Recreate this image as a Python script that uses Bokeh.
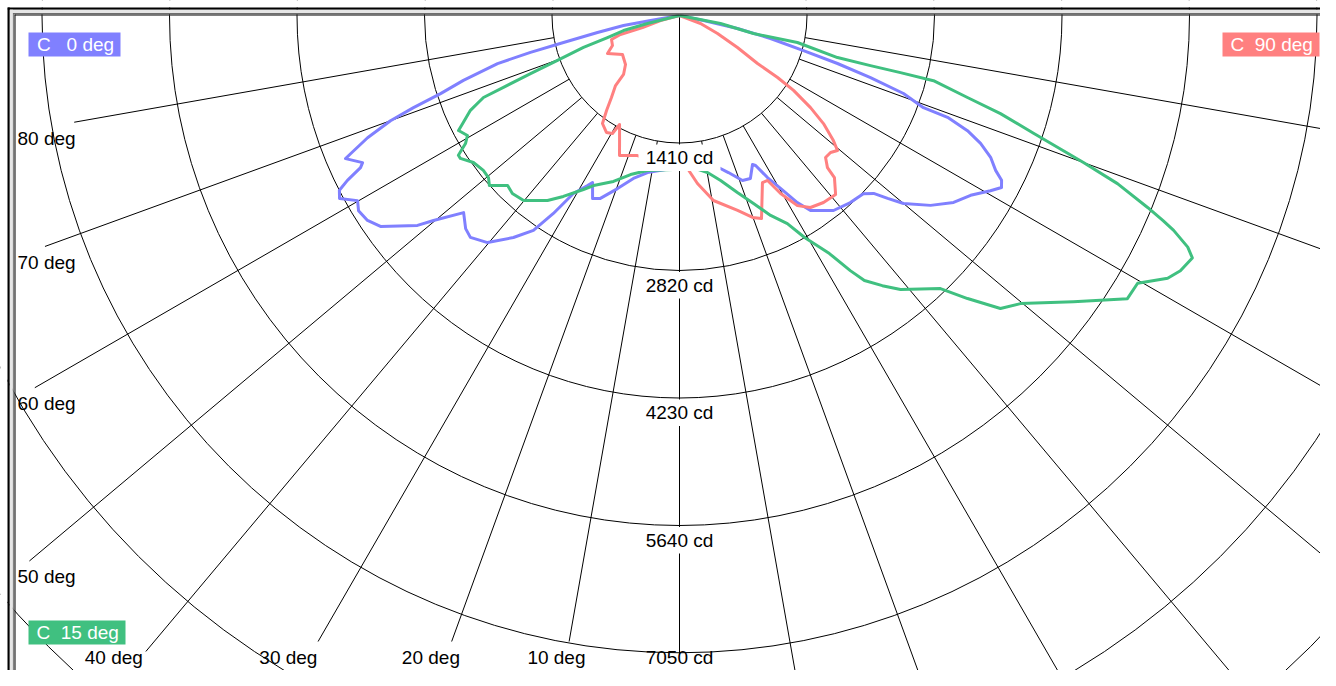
import math
from bokeh.plotting import figure
from bokeh.models import Range1d
from bokeh.embed import file_html
from bokeh.resources import INLINE
from bokeh.core.properties import value

# ---------------- data ----------------
# gamma angle (deg, negative = left half) and luminous intensity (cd)
c0_gamma = [-90, -80.2, -79.9, -78.3, -76.9, -76.1, -75.2, -73.3, -71.9, -70.9,
            -70.0, -68.6, -67.2, -66.8, -65.1, -64.5, -63.6, -62.8, -61.7, -60.1,
            -58.7, -56.7, -54.8, -51.3, -50.2, -47.6, -45.1, -43.3, -40.2, -36.8,
            -34.2, -32.5, -30.8, -28.4, -27.5, -25.4, -23.4, -19.7, -15.8, -11.5,
            -5.2, 0,
            14.4, 17.3, 20.9, 23.5, 26.1, 26.9, 28.5, 30.3, 32.2, 33.9,
            38.3, 42.4, 45.9, 47.5, 48.7, 50.0, 52.9, 55.7, 58.3, 60.6,
            61.9, 62.9, 63.9, 65.5, 67.0, 68.2, 69.2, 69.3, 70.8, 72.0,
            73.1, 74.2, 75.8, 77.4, 78.2, 90]
c0_cd = [0, 325, 629, 926, 1317, 1698, 2081, 2495, 2780, 3113,
         3401, 3705, 3946, 4018, 3864, 3908, 4100, 4229, 4270, 4107,
         4154, 4128, 4047, 3713, 3541, 3233, 3339, 3372, 3288, 3066,
         2874, 2596, 2291, 2138, 2082, 2241, 2204, 2033, 1873, 1772,
         1710, 1700,
         1735, 1819, 1953, 1966, 1835, 1860, 2039, 2215, 2445, 2598,
         2748, 2802, 2831, 2912, 3064, 3234, 3481, 3669, 3784, 3947,
         4037, 4001, 3893, 3781, 3617, 3430, 3171, 2884, 2623, 2221,
         1826, 1425, 1038, 657, 271, 0]

c90_gamma = [-90, -75.3, -72.0, -72.2, -70.6, -65.9, -62.2, -55.6, -47.8, -43.5,
             -42.4, -39.7, -37.5, -35.5, -32.0, -29.6, -28.8, -25.6, -23.2, -16.7,
             -8.0, 0,
             3.0, 6.1, 10.4, 16.6, 19.9, 22.0, 26.4, 28.1, 29.6, 31.8,
             34.3, 37.6, 41.1, 43.7, 44.2, 45.8, 47.8, 49.5, 50.9, 53.1,
             54.9, 56.7, 57.7, 58.4, 61.1, 64.7, 69.2, 90]
c90_cd = [0, 217, 430, 686, 797, 812, 900, 764, 806, 899,
          1049, 1178, 1325, 1467, 1525, 1501, 1376, 1534, 1684, 1617,
          1650, 1700,
          1694, 1869, 2080, 2250, 2375, 2421, 2063, 2068, 2264, 2474,
          2570, 2610, 2626, 2480, 2347, 2253, 2255, 2298, 2193, 1991,
          1771, 1509, 1283, 1013, 732, 465, 249, 0]

c15_gamma = [-90, -76.0, -75.0, -73.0, -71.6, -69.8, -68.7, -67.8, -67.3, -65.6,
             -63.5, -62.5, -60.5, -59.1, -57.7, -56.9, -54.5, -51.7, -49.7, -48.2,
             -45.3, -43.2, -40.1, -35.5, -32.7, -28.9, -26.8, -21.7, -17.1, -11.7,
             0,
             6.0, 10.1, 14.0, 18.1, 21.5, 24.5, 27.4, 29.4, 32.2, 33.8,
             34.9, 36.9, 38.9, 43.7, 45.5, 47.6, 49.8, 54.0, 57.7, 59.7,
             61.7, 63.0, 64.7, 65.5, 66.5, 67.0, 67.7, 69.0, 70.0, 71.6,
             73.0, 74.1, 75.6, 75.5, 75.3, 75.1, 77.1, 76.3, 79.0, 90]
c15_cd = [0, 365, 641, 833, 1119, 1438, 1768, 2103, 2350, 2539,
          2681, 2755, 2694, 2758, 2893, 2893, 2799, 2764, 2770, 2820,
          2674, 2700, 2676, 2514, 2378, 2198, 2107, 1975, 1840, 1751,
          1700,
          1701, 1764, 1880, 2060, 2234, 2430, 2592, 2818, 3111, 3395,
          3574, 3736, 3893, 4177, 4466, 4806, 4936, 5385, 5860, 5868,
          6131, 6217, 6273, 6177, 5959, 5813, 5595, 5188, 4754, 4126,
          3712, 3311, 2900, 2524, 2183, 1808, 1338, 842, 462, 0]

ring_cd = [1410, 2820, 4230, 5640, 7050, 8460, 9870, 11280]
ring_labelled = 5
angle_ticks = [10, 20, 30, 40, 50, 60, 70, 80]
series_c = [0, 90, 15]
series_colors = ["#8080ff", "#ff8080", "#40c080"]

# ---------------- layout ----------------
W, H = 1320, 670
CX, CY = 679, 15          # canvas position of the pole
S = 127.5 / 1410.0        # pixels per candela
NB = "\u00a0"             # keep the fixed-width "C %3d deg" spacing in SVG
BOTTOM_TEXT = 657         # lowest text row (kept inside the canvas)


def dx(px):
    return (px - CX) / S


def dy(py):
    return (CY - py) / S


FONT = value("Liberation Sans")
FS = "19px"

p = figure(width=W, height=H,
           x_range=Range1d(dx(0), dx(W)),
           y_range=Range1d(dy(H), dy(0)),
           output_backend="svg", toolbar_location=None, min_border=0,
           title=None, x_axis_type=None, y_axis_type=None,
           outline_line_color=None, background_fill_color="white",
           border_fill_color="white")

# rings
p.circle(x=[0] * len(ring_cd), y=[0] * len(ring_cd), radius=ring_cd,
         fill_color=None, line_color="black", line_width=1)

# radial lines + angle labels
rx, ry = [], []
lab_x, lab_y, lab_t, lab_al = [], [], [], []
for a in range(-80, 81, 10):
    t = math.radians(a)
    r0 = 0 if a == 0 else ring_cd[0]
    r1 = 30000.0
    if a < 0 and -a in angle_ticks:
        m = -a
        tm = math.radians(m)
        if m >= 50:
            lx = 17
            ly = CY + (CX - 17) / math.tan(tm) + 6
            box_right = 78
            align = "left"
        else:
            lx = CX - 661 * math.tan(tm) - (5 + 0.15 * m)
            ly = BOTTOM_TEXT
            box_right = lx + 32
            align = "center"
        box_top = ly - 16
        r_x = (CX - box_right) / math.sin(tm)
        r_y = (box_top - CY) / math.cos(tm)
        r1 = max(r_x, r_y) / S
        lab_x.append(dx(lx))
        lab_y.append(dy(ly))
        lab_t.append("%d deg" % m)
        lab_al.append(align)
    rx.append([r0 * math.sin(t), r1 * math.sin(t)])
    ry.append([-r0 * math.cos(t), -r1 * math.cos(t)])
p.multi_line(rx, ry, line_color="black", line_width=1)

# curves
for g, c, col in [(c0_gamma, c0_cd, series_colors[0]),
                  (c90_gamma, c90_cd, series_colors[1]),
                  (c15_gamma, c15_cd, series_colors[2])]:
    xs = [v * math.sin(math.radians(a)) for a, v in zip(g, c)]
    ys = [-v * math.cos(math.radians(a)) for a, v in zip(g, c)]
    p.line(xs, ys, line_color=col, line_width=3, line_join="round")

# ring labels with white boxes
bl, br, bt, bb, tx, ty, tt = [], [], [], [], [], [], []
for v in ring_cd[:ring_labelled]:
    yy = CY + v * S
    bl.append(dx(CX - 41)); br.append(dx(CX + 41))
    bt.append(dy(yy + 1.5)); bb.append(dy(min(yy + 28, H + 2)))
    tx.append(0); ty.append(dy(min(yy + 14.5, BOTTOM_TEXT))); tt.append("%d cd" % v)
p.quad(left=bl, right=br, top=bt, bottom=bb, fill_color="white", line_color=None)
p.text(x=tx, y=ty, text=tt, text_align="center", text_baseline="middle",
       text_font=FONT, text_font_size=FS, text_color="black")

# angle labels
for al in ("left", "center"):
    idx = [i for i, a in enumerate(lab_al) if a == al]
    p.text(x=[lab_x[i] for i in idx], y=[lab_y[i] for i in idx],
           text=[lab_t[i] for i in idx], text_align=al, text_baseline="middle",
           text_font=FONT, text_font_size=FS, text_color="black")

# legend boxes
leg_boxes = [(28, 120, 32, 56, 36.5, 44), (1222, 1319, 32, 56, 1230, 44),
             (28, 125, 620, 644, 36, 632)]
for (x0, x1, y0, y1, tx0, ty0), cval, col in zip(leg_boxes, series_c, series_colors):
    name = "C" + NB + ("%3d" % cval).replace(" ", NB) + NB + "deg"
    p.quad(left=[dx(x0)], right=[dx(x1)], top=[dy(y0)], bottom=[dy(y1)],
           fill_color=col, line_color=None)
    p.text(x=[dx(tx0)], y=[dy(ty0)], text=[name], text_align="left",
           text_baseline="middle", text_font=FONT, text_font_size=FS,
           text_color="white")

# sunken frame border (top and left)
strips = [(-6, 7, "#ffffff"), (7, 9.3, "#000000"), (9.3, 12.4, "#e6e6e6"),
          (12.4, 13.4, "#6e6e6e"), (13.4, 14.0, "#cfcfcf"), (14.0, 15.0, "#000000")]
for a0, a1, col in strips:
    p.quad(left=[dx(a0)], right=[dx(W + 6)], top=[dy(a0)], bottom=[dy(a1)],
           fill_color=col, line_color=None)
for a0, a1, col in strips:
    p.quad(left=[dx(a0)], right=[dx(a1)], top=[dy(a0)], bottom=[dy(H + 6)],
           fill_color=col, line_color=None)

open("out.html", "w").write(file_html(p, INLINE))
